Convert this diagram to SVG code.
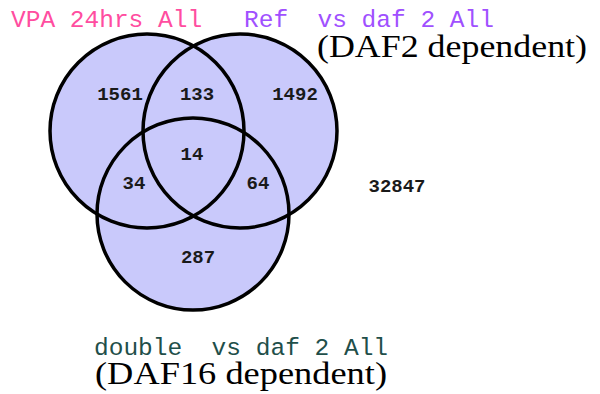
<svg xmlns="http://www.w3.org/2000/svg" xmlns:xlink="http://www.w3.org/1999/xlink" width="600" height="394" viewBox="0 0 600 394">
<style>
.fill{fill:#c9c9fb;stroke:none}
.ring{fill:none;stroke:#000;stroke-width:3.5}
.num{font-family:"Liberation Mono","Courier New",monospace;font-weight:bold;font-size:19px;fill:#1a1a1a;text-anchor:middle}
.mono{font-family:"Liberation Mono","Courier New",monospace;font-size:24.5px;white-space:pre}
.serif{font-family:"Liberation Serif","Times New Roman",serif;font-size:32px;fill:#000}
</style>
<defs>
<circle id="cA" cx="147" cy="131" r="97"/>
<circle id="cB" cx="240" cy="131" r="97"/>
<circle id="cC" cx="193" cy="214" r="96"/>
</defs>
<rect width="600" height="394" fill="#fff"/>
<g id="fills">
<use xlink:href="#cA" href="#cA" class="fill"/>
<use xlink:href="#cB" href="#cB" class="fill"/>
<use xlink:href="#cC" href="#cC" class="fill"/>
</g>
<g id="set-vpa">
<use xlink:href="#cA" href="#cA" class="ring"/>
<text class="mono" x="11" y="27" fill="#ff4da0" xml:space="preserve">VPA 24hrs All</text>
</g>
<g id="set-daf2">
<use xlink:href="#cB" href="#cB" class="ring"/>
<text class="mono" x="244" y="27" fill="#a050ff" xml:space="preserve">Ref  vs daf 2 All</text>
<text class="serif" x="317" y="57" textLength="270" lengthAdjust="spacingAndGlyphs">(DAF2 dependent)</text>
</g>
<g id="set-daf16">
<use xlink:href="#cC" href="#cC" class="ring"/>
<text class="mono" x="94" y="355" fill="#1f4f4a" xml:space="preserve">double  vs daf 2 All</text>
<text class="serif" x="95" y="384" textLength="292" lengthAdjust="spacingAndGlyphs">(DAF16 dependent)</text>
</g>
<g id="counts">
<text class="num" x="120" y="100">1561</text>
<text class="num" x="197" y="100">133</text>
<text class="num" x="295" y="100">1492</text>
<text class="num" x="192" y="160">14</text>
<text class="num" x="134" y="189">34</text>
<text class="num" x="258" y="189">64</text>
<text class="num" x="198" y="263">287</text>
<text class="num" x="397" y="192">32847</text>
</g>
<g id="connectors"/>
</svg>
